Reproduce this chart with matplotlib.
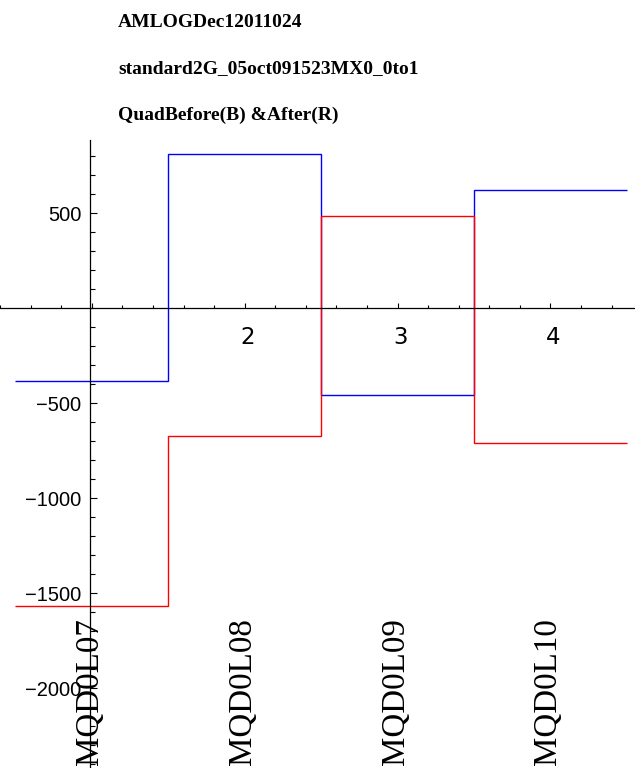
import numpy as np
import matplotlib
matplotlib.use("Agg")
import matplotlib.pyplot as plt
from matplotlib import font_manager
from matplotlib.ticker import MultipleLocator, FixedLocator, FixedFormatter
import matplotlib.transforms as mtransforms

# ---- data ----
categories = ["MQD0L07", "MQD0L08", "MQD0L09", "MQD0L10"]
before_vals = [-380, 810, -455, 625]     # blue (B)
after_vals = [-1565, -670, 485, -710]    # red (R)
xtick_vals = [2, 3, 4]
ytick_vals = [500, -500, -1000, -1500, -2000]
title_lines = ["AMLOGDec12011024",
               "standard2G_05oct091523MX0_0to1",
               "QuadBefore(B) &After(R)"]

avail = {f.name for f in font_manager.fontManager.ttflist}
if "Liberation Sans Narrow" in avail:
    ylab_family, ylab_size = "Liberation Sans Narrow", 16.5
else:
    ylab_family, ylab_size = "Liberation Sans", 14.5
serif = "Liberation Serif"

fig = plt.figure(figsize=(6.35, 7.68), dpi=100)
ax = fig.add_axes([0, 0, 1, 628 / 768])

positions = np.arange(1, len(categories) + 1)
edges = np.concatenate([positions - 0.5, [positions[-1] + 0.5]])

ax.stairs(before_vals, edges, baseline=None, color="#0000ff", lw=1.0)
ax.stairs(after_vals, edges, baseline=None, color="#ff0000", lw=1.0)

ax.set_xlim(0.399, 4.553)
ax.set_ylim(-2419, 886)

for s in ["top", "right"]:
    ax.spines[s].set_visible(False)
ax.spines["left"].set_position(("data", 0.985))
ax.spines["bottom"].set_position(("data", 0))
for s in ["left", "bottom"]:
    ax.spines[s].set_linewidth(0.9)
    ax.spines[s].set_color("black")

ax.xaxis.set_major_locator(FixedLocator(xtick_vals + [1]))
ax.xaxis.set_major_formatter(FixedFormatter([str(v) for v in xtick_vals] + [""]))
ax.xaxis.set_minor_locator(MultipleLocator(0.2))
ax.yaxis.set_major_locator(FixedLocator(ytick_vals))
ax.yaxis.set_major_formatter(FixedFormatter(["\u2212" + str(abs(v)) if v < 0 else str(v) for v in ytick_vals]))
ax.yaxis.set_minor_locator(MultipleLocator(100))

ax.tick_params(axis="x", which="major", direction="in", length=3.6, width=0.8, pad=12.6,
               labelsize=16.5)
ax.tick_params(axis="x", which="minor", direction="in", length=2.0, width=0.8)
ax.tick_params(axis="y", which="major", direction="in", length=5.0, width=0.8, pad=6.0,
               labelsize=ylab_size)
ax.tick_params(axis="y", which="minor", direction="in", length=3.6, width=0.8)

for lab in ax.get_xticklabels():
    lab.set_fontfamily("DejaVu Sans")
    lab.set_transform(lab.get_transform() + mtransforms.ScaledTranslation(3 / 100, 0, fig.dpi_scale_trans))
for lab in ax.get_yticklabels():
    lab.set_fontfamily(ylab_family)

# category labels (rotated)
for x, name in zip(positions, categories):
    tr = ax.transData + mtransforms.ScaledTranslation(6 / 100, 0, fig.dpi_scale_trans)
    ax.text(x, -2405, name, rotation=90, rotation_mode="anchor", ha="left", va="baseline",
            fontsize=23.8, family=serif, color="black", transform=tr, clip_on=False)

# title lines
baselines = [27, 73, 120]
for txt, b in zip(title_lines, baselines):
    fig.text(118 / 635, 1 - b / 768, txt, ha="left", va="baseline", fontsize=14,
             family=serif, fontweight="bold", color="black")

fig.savefig("out.png", dpi=100)
